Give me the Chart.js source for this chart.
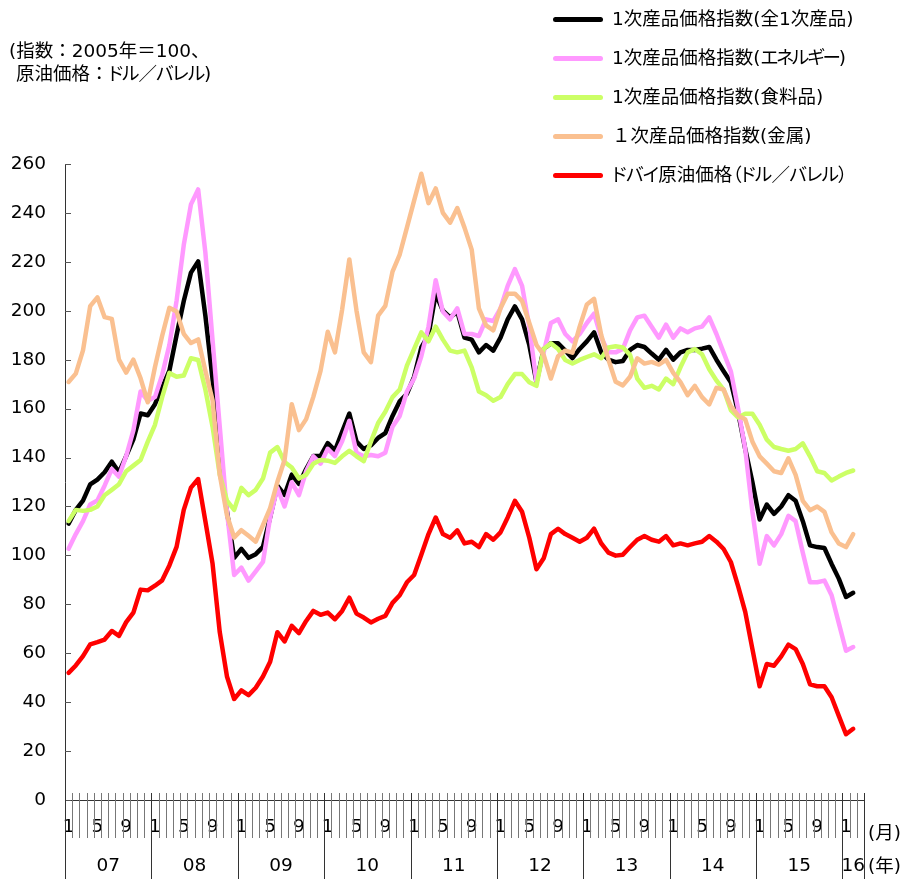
<!DOCTYPE html>
<html><head><meta charset="utf-8">
<script src="https://cdn.jsdelivr.net/npm/chart.js@4/dist/chart.umd.min.js"></script>
<style>
html,body{margin:0;padding:0;background:#fff;}
#wrap{position:relative;width:904px;height:879px;overflow:hidden;background:#fff;}
#c{position:absolute;left:0;top:0;}
.t{position:absolute;font-family:"DejaVu Sans","Noto Sans CJK JP",sans-serif;font-size:18.5px;color:#000;white-space:nowrap;line-height:20px;}
.p{font-feature-settings:"palt" 1;}
.sw{position:absolute;height:5px;border-radius:3px;width:50px;left:553px;}
</style></head><body>
<div id="wrap">
<canvas id="c" width="904" height="879"></canvas>
<div class="t" style="left:9px;top:41px">(指数：2005年＝100、</div>
<div class="t" style="left:16px;top:64px">原油価格：<span class="p" style="letter-spacing:-1px">ドル／バレル</span>)</div>
<div id="legend"></div>
</div>
<script>
// ---- categories (year/month) ----
const categories = [
'2007/01','2007/02','2007/03','2007/04','2007/05','2007/06','2007/07','2007/08','2007/09','2007/10','2007/11','2007/12',
'2008/01','2008/02','2008/03','2008/04','2008/05','2008/06','2008/07','2008/08','2008/09','2008/10','2008/11','2008/12',
'2009/01','2009/02','2009/03','2009/04','2009/05','2009/06','2009/07','2009/08','2009/09','2009/10','2009/11','2009/12',
'2010/01','2010/02','2010/03','2010/04','2010/05','2010/06','2010/07','2010/08','2010/09','2010/10','2010/11','2010/12',
'2011/01','2011/02','2011/03','2011/04','2011/05','2011/06','2011/07','2011/08','2011/09','2011/10','2011/11','2011/12',
'2012/01','2012/02','2012/03','2012/04','2012/05','2012/06','2012/07','2012/08','2012/09','2012/10','2012/11','2012/12',
'2013/01','2013/02','2013/03','2013/04','2013/05','2013/06','2013/07','2013/08','2013/09','2013/10','2013/11','2013/12',
'2014/01','2014/02','2014/03','2014/04','2014/05','2014/06','2014/07','2014/08','2014/09','2014/10','2014/11','2014/12',
'2015/01','2015/02','2015/03','2015/04','2015/05','2015/06','2015/07','2015/08','2015/09','2015/10','2015/11','2015/12',
'2016/01','2016/02','2016/03'];
const monthTickLabels = ['1','5','9'];
const yearTickLabels = ['07','08','09','10','11','12','13','14','15','16'];
const yTicks = [0,20,40,60,80,100,120,140,160,180,200,220,240,260];

// ---- series ----
const allCommodities = [
113,118.6,122.4,129,131,134,138.3,134,140.6,147.4,158,157.3,
161.8,168.6,175.5,190,204,215.6,220.2,198,172,137,118,99,
102.7,99,100.5,103.5,115.6,128.5,124.7,133,129.2,135.3,140.6,140.6,
145.9,142.9,150.5,158,146.5,143.5,145,148,150,157,163,166,
173,185,190,207,200,197.3,199.6,189,188.2,183,186,183.7,
189,196.5,201.8,196.5,186,170.8,184.4,186.7,186.7,183.7,180.6,184.4,
187.5,191.2,183,180,179,179.5,184,186,185.2,182.5,180,184,
180,183,184,184,184.5,185.2,180,175.3,170.8,158.7,143.5,129.9,
114.7,120.8,117,120,124.6,122.3,114,104.1,103.4,103,96.5,90.5,
83,84.7];
const energy = [
102.7,108.7,114,120.8,122.4,128.5,135.3,132.2,140.6,151.1,167,163.2,
164.7,173.8,186,204.1,226.9,243.5,249.6,223.8,188,152.6,117.8,92,
95,89.7,93.5,97.3,115.5,127.6,120,129.9,124.6,134.4,140.5,137.5,
143.6,140.6,146.7,155,142,140.5,141,140.5,142,152.6,157,167,
172.3,181.4,193.5,212.5,199.6,196.5,201,190.5,190.5,189.7,196.5,195.8,
201,210.2,217,210.2,193.5,170.8,183,195,196.5,190.5,187.5,190.5,
195,198.8,189,183,183,184.4,192,197.3,198,193.5,189,194.3,
189,192.8,191.2,192.8,193.5,197.3,190.5,182.9,175.3,160.2,143.5,117.8,
96.6,107.9,104.1,108.7,116.2,114,101.1,89,89,89.7,83.7,72.3,
61,62.5];
const food = [
114,118.6,118.2,118.6,120,124.6,126.8,129.1,134.4,136.7,139,146.5,
153.4,164.7,174.6,173,173.5,180.6,179.9,167.8,152.6,133,122.4,118.6,
127.6,124.6,126.8,131.4,142,144.3,138.2,135.9,131.4,133,137.5,139,
138.7,137.8,140.5,142.8,140.5,138.5,146.5,154.1,158.7,164.7,167.8,177.6,
184.4,191.2,187.5,193.5,188.2,183.7,183,183.7,176.9,167,165.5,163.2,
164.7,170,174.1,174.1,170.8,169.3,184.4,186.7,184.4,179.9,178.4,179.9,
181.1,182.2,180.6,185,185.5,185,182,172.3,168.5,169.3,167.8,172.3,
170,176.9,183,184.4,182.2,176.1,171.5,167.8,159.4,156.4,157.9,157.9,
153.4,147.3,144.3,143.5,142.8,143.5,145.8,140.5,134.4,133.7,130.6,132.2,
133.7,134.7];
const metals = [
170.9,174.3,183.8,201.9,205.5,197.4,196.7,180,174.7,180,172.4,162.6,
177,189.8,201.2,199.7,190.6,186.8,188.3,175.5,163.4,133,116.4,107.3,
110.3,108,105.6,112.4,119.3,130,139,161.8,151.2,155.7,164.8,175.4,
191.4,183,200.5,221,200,183,179,198,202,216,223,234,
245,256,244,250,240,236,242,234,225,201,194,192,
201,207,207,204,195,186,182,172.3,181.4,183.7,182.9,193.5,
202.6,204.9,190,180,171,169.5,173,180.6,178.4,179.1,178,179.9,
174.6,170.8,165.5,169.3,164.7,161.7,168.5,167.8,161,157.2,155.6,146.5,
140.5,137.5,134.4,133.7,139.7,132.9,122.3,118.5,120,117.8,109.4,104.9,
103.4,108.7];
const dubaiCrude = [
52,55,58.8,63.6,64.5,65.6,69.1,67.1,72.7,76.6,86,85.7,
87.6,89.8,95.9,103.5,118.6,127.7,131.2,114,96.6,68.6,50.5,41.3,
44.8,42.9,45.9,50.5,56.5,68.6,64.8,71.2,68.2,73.2,77.3,75.7,
76.6,73.9,77.3,82.7,76.2,74.6,72.6,74.1,75.3,80.6,83.7,89,
92,100.3,108.7,115.5,108.7,107.2,110.2,104.9,105.6,103.4,108.7,106.4,
109.4,115.5,122.3,117.8,107.2,94.3,98.8,108.7,110.9,108.7,107.2,105.6,
107.2,110.9,104.9,101.1,99.9,100.3,103.4,106.4,107.9,106.4,105.6,107.9,
104.1,104.9,104.1,104.9,105.6,107.9,105.6,102.6,97.3,87.5,76.9,61.7,
46.5,55.6,54.9,58.7,63.5,61.7,55.6,47.3,46.5,46.5,42,34.4,
26.9,29.1];

const seriesNames = ['1次産品価格指数(全1次産品)','1次産品価格指数(エネルギー)','1次産品価格指数(食料品)','１次産品価格指数(金属)','ドバイ原油価格（ドル／バレル）'];
const seriesData = [allCommodities, energy, food, metals, dubaiCrude];
const seriesColors = ['#000000','#FF99FF','#CCFF66','#FAC090','#FF0000'];
const kanaSpacing = [0, -2, 0, 0, -0.7];

// ---- legend (HTML) ----
const lg = document.getElementById('legend');
seriesNames.forEach((name,k)=>{
  const cy = 19 + k*39;
  const sw = document.createElement('div');
  sw.className='sw'; sw.style.top=(cy-2.5)+'px'; sw.style.background=seriesColors[k];
  lg.appendChild(sw);
  const tx = document.createElement('div');
  tx.className='t'; tx.style.left='612px'; tx.style.top=(cy-10)+'px';
  if (kanaSpacing[k] !== 0) {
    const parts = name.split(/([\u30A0-\u30FF\uFF08\uFF09\uFF0F]+)/);
    parts.forEach(p=>{
      if (!p) return;
      if (/^[\u30A0-\u30FF\uFF08\uFF09\uFF0F]+$/.test(p)) {
        const s = document.createElement('span'); s.className='p';
        s.style.letterSpacing = kanaSpacing[k]+'px'; s.textContent = p; tx.appendChild(s);
      } else tx.appendChild(document.createTextNode(p));
    });
  } else tx.textContent = name;
  lg.appendChild(tx);
});

const FONT = {family:'"DejaVu Sans"', size:18.5};
const monthOf = i => parseInt(categories[i].split('/')[1],10);

const axisDeco = {
  id:'axisDeco',
  afterDraw(chart){
    const {ctx, chartArea:a, scales:{x,y}} = chart;
    ctx.save();
    ctx.lineWidth = 1;
    ctx.strokeStyle = '#555';
    yTicks.forEach(v=>{
      const py = Math.round(y.getPixelForValue(v)) + 0.5;
      ctx.beginPath(); ctx.moveTo(a.left, py); ctx.lineTo(a.left+6, py); ctx.stroke();
    });
    const n = categories.length;
    const w = x.getPixelForValue(1) - x.getPixelForValue(0);
    const x0 = x.getPixelForValue(0) - w/2;
    const yearStarts = [];
    for (let i=0;i<=n;i++){
      const px = Math.round(x0 + i*w) + 0.5;
      const isYear = (i===n) || monthOf(i)===1;
      if (isYear) yearStarts.push(x0 + i*w);
      ctx.strokeStyle = isYear ? '#333' : '#777';
      ctx.beginPath();
      ctx.moveTo(px, a.bottom - 7);
      ctx.lineTo(px, isYear ? a.bottom + 79 : a.bottom + 38);
      ctx.stroke();
    }
    ctx.fillStyle = '#000';
    ctx.font = '18.5px "DejaVu Sans"';
    ctx.textAlign = 'center'; ctx.textBaseline = 'middle';
    yearTickLabels.forEach((lab,k)=>{
      const cx = (yearStarts[k] + yearStarts[k+1]) / 2;
      ctx.fillText(lab, cx, a.bottom + 66);
    });
    ctx.textAlign = 'left';
    ctx.font = '18.5px "DejaVu Sans","Noto Sans CJK JP"';
    ctx.fillText('(月)', a.right + 4, a.bottom + 34);
    ctx.fillText('(年)', a.right + 4, a.bottom + 67);
    ctx.restore();
  }
};

const datasets = seriesData.map((d,k)=>({
  label: seriesNames[k], data: d,
  borderColor: seriesColors[k], backgroundColor: seriesColors[k],
  borderWidth: 4.5, pointRadius: 0, tension: 0, fill: false,
  borderCapStyle:'round', borderJoinStyle:'round',
  order: seriesData.length - k
}));

new Chart(document.getElementById('c').getContext('2d'), {
  type:'line',
  data:{labels:categories, datasets},
  options:{
    responsive:false, animation:false, devicePixelRatio:1,
    layout:{padding:{left:0,right:40,top:164,bottom:0}},
    plugins:{legend:{display:false}, tooltip:{enabled:false}},
    scales:{
      x:{
        type:'category', offset:true,
        grid:{display:true, drawOnChartArea:false, drawTicks:false, offset:true},
        border:{display:true, color:'#333', width:1},
        ticks:{autoSkip:false, maxRotation:0, minRotation:0, padding:16, font:FONT, color:'#000',
          callback:function(v,i){ const m = String(monthOf(i)); return monthTickLabels.includes(m) ? m : ''; }},
        afterFit(s){ s.height = 79; }
      },
      y:{
        min:0, max:260,
        ticks:{stepSize:20, padding:19, font:FONT, color:'#000'},
        grid:{display:true, drawOnChartArea:false, drawTicks:false},
        border:{display:true, color:'#333', width:1},
        afterFit(s){ s.width = 65; }
      }
    }
  },
  plugins:[axisDeco]
});
</script>
</body></html>
